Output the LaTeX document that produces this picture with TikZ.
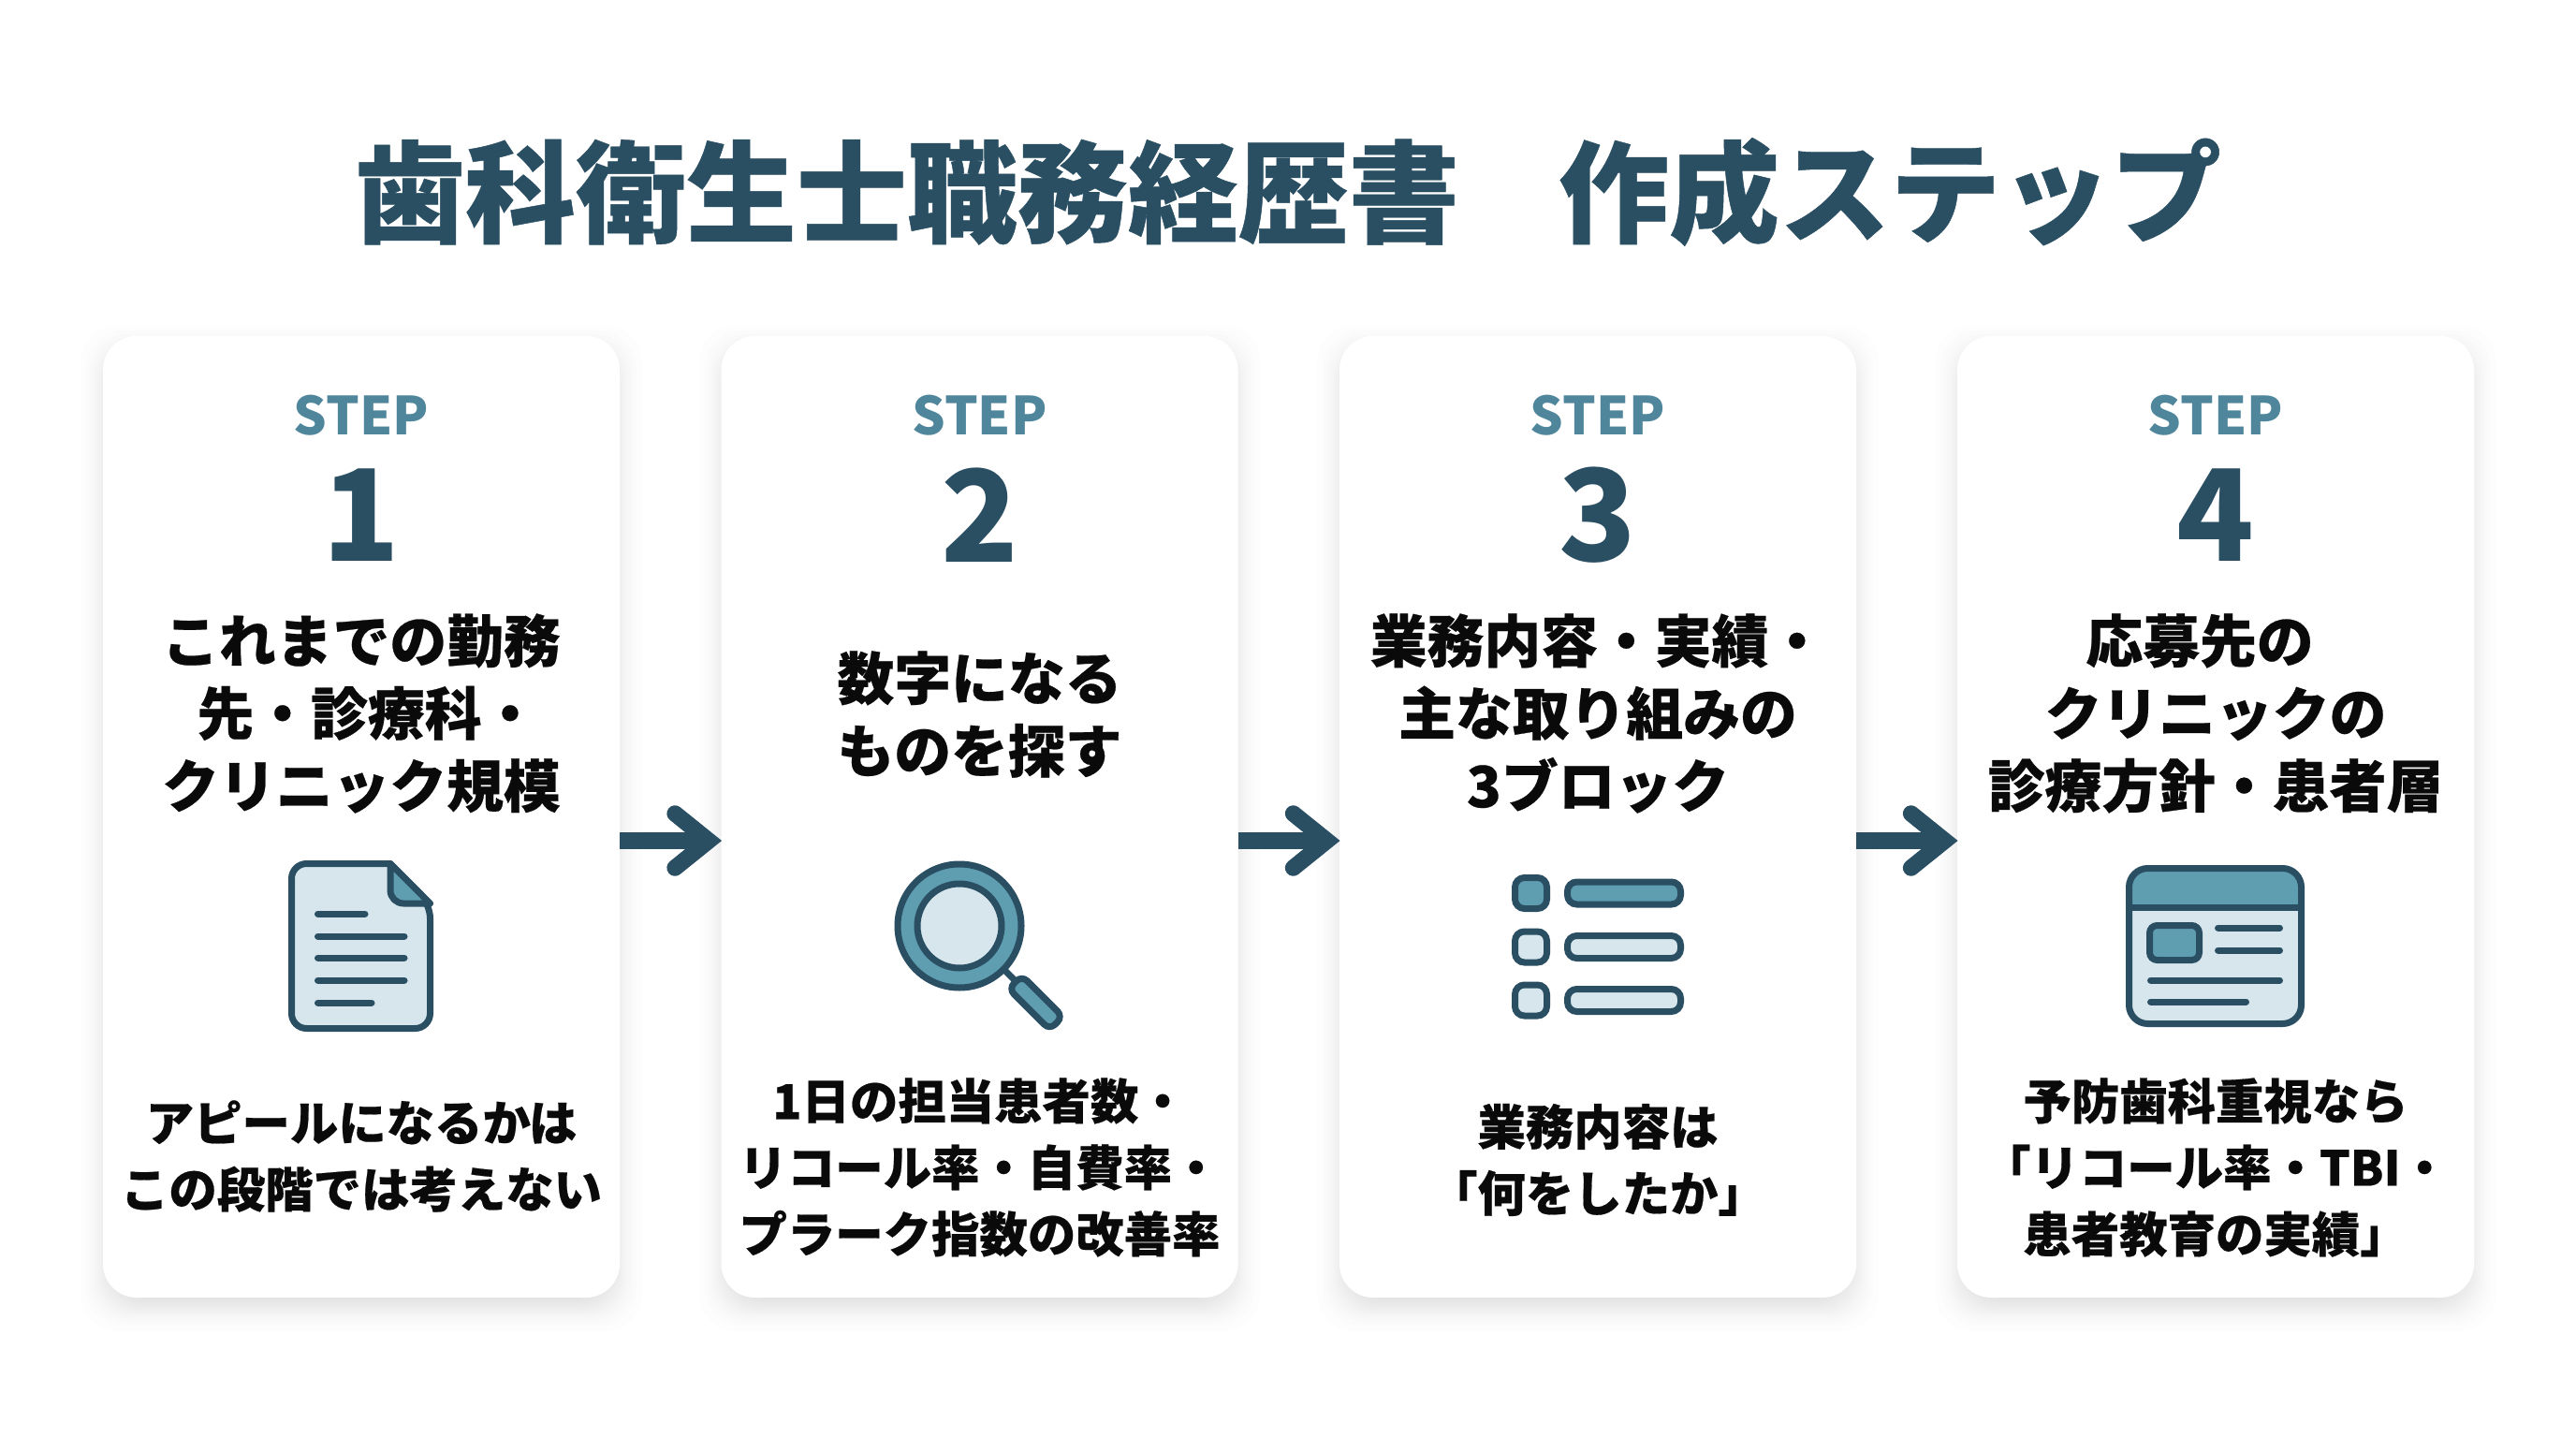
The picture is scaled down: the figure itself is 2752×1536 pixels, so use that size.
\documentclass[tikz,border=0pt]{standalone}
\usepackage{fontspec}
\setmainfont{Noto Sans CJK JP}
\newfontfamily\stepheavy{Noto Sans CJK JP Black}[FakeBold=0.4]
\definecolor{stepdark}{HTML}{2A4F63}
\definecolor{stepmid}{HTML}{5F9DB1}
\definecolor{steplight}{HTML}{D7E6ED}
\definecolor{steplabel}{HTML}{4F869C}
\definecolor{stepink}{HTML}{0A0A0A}
\begin{document}
\begin{tikzpicture}[x=0.5pt,y=-0.5pt,
        every node/.style={inner sep=0pt,align=center,font=\bfseries},
        stepcard/.style={fill=white,rounded corners=18pt,minimum width=276pt,minimum height=513.5pt},
        cardglow/.style={black,opacity=.0095,rounded corners=20pt},
        pagetitle/.style={text=stepdark,font=\stepheavy\fontsize{59}{70}\selectfont},
        steplab/.style={text=steplabel,font=\bfseries\fontsize{28}{34}\selectfont},
        stepnum/.style={text=stepdark,font=\bfseries\fontsize{68}{80}\selectfont},
        stephead/.style={text=stepink,font=\stepheavy\fontsize{30.4}{38.7}\selectfont},
        stepfoot/.style={text=stepink,font=\stepheavy\fontsize{25.7}{35.5}\selectfont},
        iconline/.style={draw=stepdark,line width=3.5pt},
        iconbar/.style={draw=stepdark,line width=3.5pt,line cap=round},
        flowshaft/.style={draw=stepdark,line width=8.75pt,shorten >=11pt},
        flowhead/.style={draw=stepdark,line width=8.75pt,line cap=round,line join=miter}]

    \useasboundingbox (0,0) rectangle (2752,1536);
    \fill[white] (0,0) rectangle (2752,1536);

    \node[pagetitle] (title) at (1376,205) {歯科衛生士職務経歴書\hspace{-.1em}　作成ステップ};

    \foreach \x in {386,1046.5,1707,2367}
        \foreach \s in {-12,-10,...,8,11,14,18,24}
            \fill[cardglow] ({\x-276-\s},{371-\s}) rectangle ({\x+276+\s},{1398+\s});

    \foreach \n/\x/\hy/\head/\fy/\foot in {
        1/386/762/{これまでの勤務\\\hspace*{7pt}先・診療科・\\クリニック規模}/1235/{アピールになるかは\\この段階では考えない},
        2/1046.5/763/{数字になる\\ものを探す}/1247/{1日の担当患者数・\\リコール率・自費率・\\プラーク指数の改善率},
        3/1707/762/{業務内容・実績・\\主な取り組みの\\3ブロック}/1239/{業務内容は\\「何をしたか」},
        4/2367/762/{応募先の\hspace*{17pt}\\クリニックの\\診療方針・患者層}/1247/{予防歯科重視なら\\「リコール率・TBI・\\患者教育の実績」}}
    {
        \node[stepcard] (card\n) at (\x,872.5) {};
        \node[steplab] (lab\n) at (\x,444) {STEP};
        \node[stepnum] (num\n) at (\x,550) {\n};
        \node[stephead] (head\n) at (\x,\hy) {\head};
        \node[stepfoot] (foot\n) at (\x,\fy) {\foot};
    }

    \foreach \a/\b in {1/2,2/3,3/4}
    {
        \coordinate (out\a) at ([yshift=-12.75pt]card\a.east);
        \coordinate (in\b) at ([yshift=-12.75pt]card\b.west);
        \draw[flowshaft] (out\a) -- (in\b);
        \draw[flowhead] ([xshift=-24.5pt,yshift=14.5pt]in\b) -- ([xshift=-6.5pt]in\b)
            -- ([xshift=-24.5pt,yshift=-14.5pt]in\b);
    }

    % document
    \draw[iconline,fill=steplight,line join=round,rounded corners=8pt] (417,922.5) -- (311.5,922.5)
        -- (311.5,1098.5) -- (459.5,1098.5) -- (459.5,965) [sharp corners] -- cycle;
    \draw[iconline,fill=stepmid,line join=round] (417,922.5) [rounded corners=7pt] -- (417,965) [sharp corners]
        -- (459.5,965) -- cycle;
    \draw[iconbar] (339.5,976) -- (390,976);
    \draw[iconbar] (339.5,1000) -- (432,1000);
    \draw[iconbar] (339.5,1023) -- (432,1023);
    \draw[iconbar] (339.5,1047) -- (432,1047);
    \draw[iconbar] (339.5,1071) -- (397,1071);

    % magnifier
    \draw[iconline] (1072,1035) -- (1090,1053);
    \draw[iconline,fill=stepmid] (1025,989) circle (66);
    \draw[iconline,fill=steplight] (1025,989) circle (45);
    \begin{scope}[shift={(1106.5,1071)},rotate=-45]
        \draw[iconline,fill=stepmid,rounded corners=4pt] (-31,-10) rectangle (31,10);
    \end{scope}

    % list
    \foreach \y/\c in {954/stepmid,1011.5/steplight,1068.5/steplight}
    {
        \draw[iconline,fill=\c,rounded corners=5pt] (1618.5,{\y-16.5}) rectangle (1652.5,{\y+16.5});
        \draw[iconline,fill=\c,rounded corners=5pt] (1674.5,{\y-12}) rectangle (1795.5,{\y+12});
    }

    % window
    \fill[steplight,rounded corners=10pt] (2274.5,927.5) rectangle (2458.5,1093.5);
    \fill[stepmid,rounded corners=10pt] (2274.5,969) [sharp corners] -- (2274.5,969)
        [rounded corners=10pt] -- (2274.5,927.5) -- (2458.5,927.5) [sharp corners] -- (2458.5,969) -- cycle;
    \draw[iconline,rounded corners=10pt] (2274.5,927.5) rectangle (2458.5,1093.5);
    \draw[iconline] (2274.5,969) -- (2458.5,969);
    \draw[iconline,fill=stepmid,rounded corners=4pt] (2296.5,988.5) rectangle (2349.5,1025.5);
    \draw[iconbar] (2369.5,991) -- (2435.5,991);
    \draw[iconbar] (2369.5,1015) -- (2435.5,1015);
    \draw[iconbar] (2297.5,1047) -- (2435.5,1047);
    \draw[iconbar] (2297.5,1070) -- (2399.5,1070);
\end{tikzpicture}
\end{document}
